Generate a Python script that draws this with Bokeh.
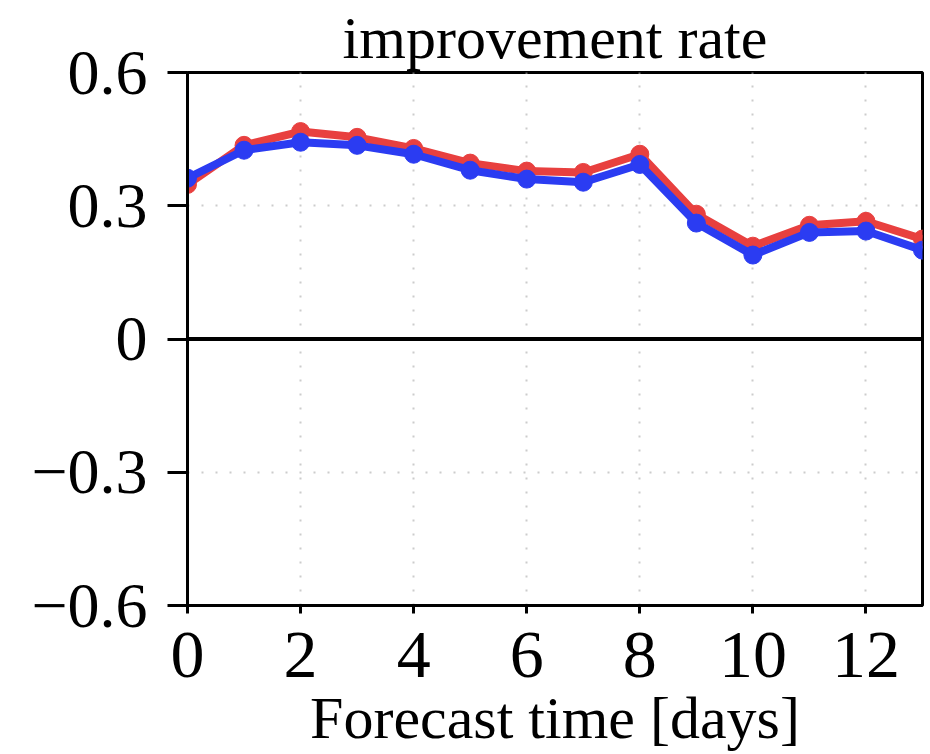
from bokeh.plotting import figure
from bokeh.models import Range1d, FixedTicker, CustomJSTickFormatter, Span
from bokeh.embed import file_html
from bokeh.resources import INLINE

days = [0, 1, 2, 3, 4, 5, 6, 7, 8, 9, 10, 11, 12, 13]
red_vals = [0.348, 0.436, 0.467, 0.454, 0.429, 0.396, 0.378, 0.375, 0.416, 0.281, 0.209, 0.256, 0.265, 0.225]
blue_vals = [0.362, 0.425, 0.443, 0.436, 0.416, 0.380, 0.360, 0.353, 0.393, 0.261, 0.189, 0.240, 0.243, 0.200]
x_ticks = [0, 2, 4, 6, 8, 10, 12]
y_ticks = [-0.6, -0.3, 0, 0.3, 0.6]
title_text = "improvement rate"
x_label = "Forecast time [days]"

FONT = "Liberation Serif"

p = figure(width=930, height=754, output_backend="svg", toolbar_location=None,
           x_range=Range1d(0, 13), y_range=Range1d(-0.6, 0.6),
           min_border_left=187, min_border_right=8, min_border_top=71, min_border_bottom=149)

p.title.text = title_text
p.title.align = "center"
p.title.text_font = FONT
p.title.text_font_size = "60px"
p.title.text_font_style = "normal"
p.title.text_color = "black"
p.title.standoff = 4

p.outline_line_color = "black"
p.outline_line_width = 3
p.background_fill_color = "white"
p.border_fill_color = "white"

# axes
xa = p.xaxis[0]
xa.ticker = FixedTicker(ticks=x_ticks, minor_ticks=[])
xa.axis_label = x_label
xa.axis_label_text_font = FONT
xa.axis_label_text_font_size = "60px"
xa.axis_label_text_font_style = "normal"
xa.axis_label_text_color = "black"
xa.axis_label_standoff = 5
xa.major_label_text_font = FONT
xa.major_label_text_font_size = "68px"
xa.major_label_text_color = "black"
xa.major_label_standoff = 19
xa.major_tick_out = 8
xa.major_tick_in = 0
xa.minor_tick_line_color = None
xa.axis_line_width = 3
xa.major_tick_line_width = 3

ya = p.yaxis[0]
ya.ticker = FixedTicker(ticks=y_ticks, minor_ticks=[])
ya.formatter = CustomJSTickFormatter(code="""
if (Math.abs(tick) < 1e-9) return '0';
return (tick < 0 ? '\u2212' : '') + Math.abs(tick).toFixed(1);
""")
ya.major_label_text_font = FONT
ya.major_label_text_font_size = "64px"
ya.major_label_text_color = "black"
ya.major_label_standoff = 20
ya.major_tick_out = 20
ya.major_tick_in = 0
ya.minor_tick_line_color = None
ya.axis_line_width = 3
ya.major_tick_line_width = 3

# grids
p.xgrid.ticker = FixedTicker(ticks=x_ticks)
p.ygrid.ticker = FixedTicker(ticks=y_ticks)
for g in (p.xgrid[0], p.ygrid[0]):
    g.grid_line_color = "#cccccc"
    g.grid_line_dash = "2 12"
    g.grid_line_width = 2

p.add_layout(Span(location=0, dimension="width", line_color="black", line_width=4))

red = "#e8403f"
blue = "#2b3cf2"
p.line(days, red_vals, line_color=red, line_width=8)
p.scatter(days, red_vals, size=18, fill_color=red, line_color=red)
p.line(days, blue_vals, line_color=blue, line_width=8)
p.scatter(days, blue_vals, size=18, fill_color=blue, line_color=blue)

open("out.html", "w").write(file_html(p, INLINE))
